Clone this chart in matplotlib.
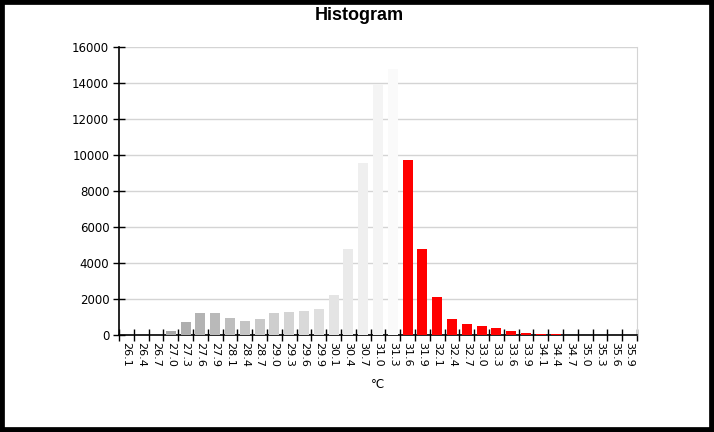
import numpy as np
import matplotlib.pyplot as plt
from matplotlib.patches import Rectangle

labels = ['26.1', '26.4', '26.7', '27.0', '27.3', '27.6', '27.9', '28.1', '28.4', '28.7',
          '29.0', '29.3', '29.6', '29.9', '30.1', '30.4', '30.7', '31.0', '31.3', '31.6',
          '31.9', '32.1', '32.4', '32.7', '33.0', '33.3', '33.6', '33.9', '34.1', '34.4',
          '34.7', '35.0', '35.3', '35.6', '35.9']
counts = [0, 0, 0, 200, 700, 1200, 1200, 920, 760, 870,
          1200, 1260, 1310, 1420, 2250, 4800, 9560, 13970, 14770, 9730,
          4800, 2090, 870, 590, 480, 370, 200, 110, 55, 50,
          0, 0, 0, 0, 0]
n_grey = 19  # bins below threshold drawn in grey shades

# grey gets lighter towards the threshold, then red
colors = []
for i in range(len(counts)):
    if i < n_grey:
        g = 0.66 + 0.32 * max(i - 3, 0) / (n_grey - 1 - 3)
        colors.append((g, g, g))
    else:
        colors.append('#ff0000')

fig = plt.figure(figsize=(7.14, 4.32), dpi=100)
ax = fig.add_axes([119/714, 97/432, 518/714, 288/432])

x = np.arange(len(counts))
ax.bar(x, counts, width=0.68, color=colors, zorder=3)

ax.set_xlim(-0.5, len(counts) - 0.5)
ax.set_ylim(0, 16000)
ax.set_yticks(range(0, 16001, 2000))
ax.yaxis.grid(True, color='#d4d4d4', linewidth=1, zorder=0)

ax.set_xticks(np.arange(len(counts) + 1) - 0.5)
ax.set_xticklabels([])
ax.set_xticks(x, minor=True)
ax.set_xticklabels(labels, minor=True, rotation=270, fontsize=8)
ax.tick_params(axis='x', which='major', direction='inout', length=8, width=1)
ax.tick_params(axis='x', which='minor', length=0, pad=5)
ax.tick_params(axis='y', direction='inout', length=8, width=1, labelsize=8.5, pad=3)

ax.spines['top'].set_visible(False)
ax.spines['right'].set_color('#d4d4d4')
ax.spines['left'].set_linewidth(1.2)
ax.spines['bottom'].set_linewidth(1.2)

ax.set_xlabel('°C', fontsize=8.5, labelpad=8)
fig.text(0.503, 0.965, 'Histogram', ha='center', va='center', fontsize=13,
         fontweight='bold', family='Liberation Sans')

fig.patches.append(Rectangle((0, 0), 1, 1, transform=fig.transFigure, fill=False,
                             edgecolor='black', linewidth=7))

fig.savefig('out.png', dpi=100)
